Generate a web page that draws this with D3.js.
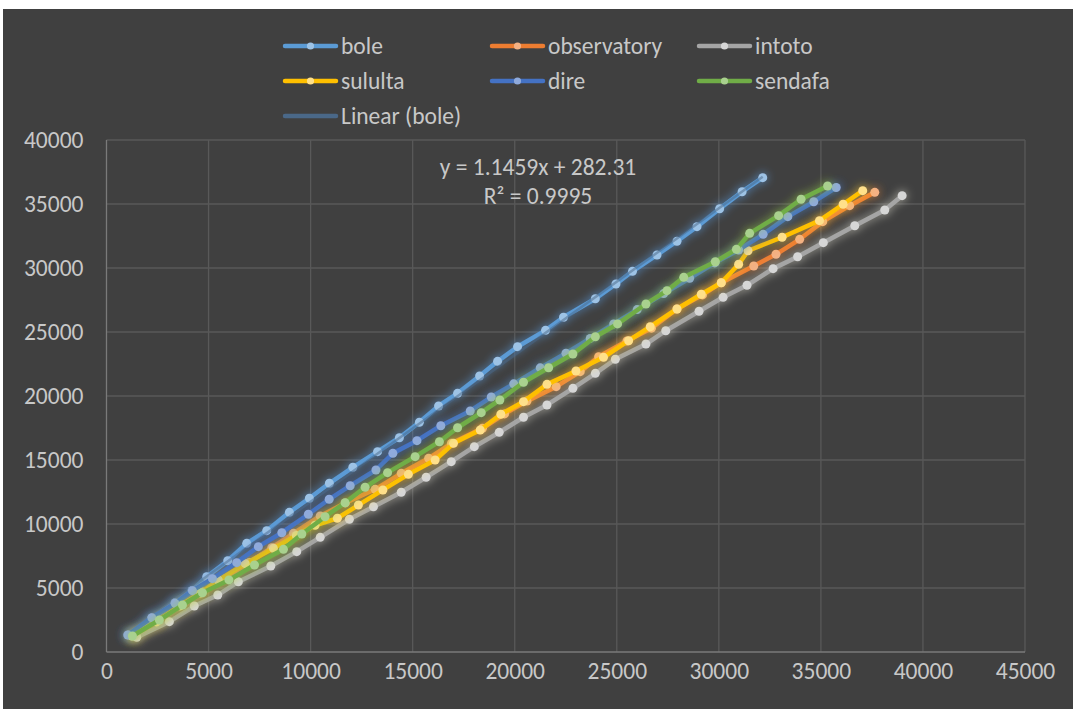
<!DOCTYPE html>
<html><head><meta charset="utf-8">
<script src="https://cdn.jsdelivr.net/npm/d3@7"></script>
<style>
html,body{margin:0;padding:0;background:#fff;}
svg{display:block;}
text{font-family:Calibri,Carlito,Lato,"Open Sans",sans-serif;}
</style></head>
<body>
<svg id="c" width="1073" height="709"></svg>
<script>
// ---- data ----
const seriesNames = ["bole","observatory","intoto","sululta","dire","sendafa"];
const trendName = "Linear (bole)";
const xTicks = [0,5000,10000,15000,20000,25000,30000,35000,40000,45000];
const yTicks = [0,5000,10000,15000,20000,25000,30000,35000,40000];
const trendSlope = 1.1459, trendIntercept = 282.31;
const eqText = "y = 1.1459x + 282.31";
const r2Text = "R² = 0.9995";

const bole = [[1100,1330],[2220,2630],[3360,3850],[4180,4790],[4910,5880],[5940,7130],[6870,8490],[7850,9480],[8960,10910],[9940,12010],[10920,13180],[12070,14430],[13280,15650],[14350,16740],[15330,17950],[16270,19220],[17200,20210],[18280,21560],[19160,22710],[20140,23850],[21510,25130],[22390,26150],[23950,27600],[24960,28750],[25770,29740],[26970,31020],[27950,32090],[28930,33230],[30040,34630],[31140,35960],[32150,37060]];
const observatory = [[1300,1300],[2500,2400],[3700,3700],[4700,4700],[5800,5700],[7000,7000],[8100,8150],[9160,9270],[10470,10630],[11700,11650],[13160,12710],[14440,13960],[15780,15130],[16900,16300],[18420,17480],[19500,18600],[20600,19600],[22030,20730],[23210,21900],[24110,23070],[25500,24300],[26700,25300],[27950,26800],[29200,27900],[30120,28850],[31710,30160],[32800,31070],[33960,32240],[35090,33620],[36410,34870],[37640,35910]];
const intoto = [[1480,1150],[3080,2370],[4300,3590],[5450,4450],[6460,5490],[8050,6720],[9320,7840],[10470,8960],[11900,10370],[13080,11350],[14440,12480],[15660,13650],[16890,14870],[18020,16040],[19240,17160],[20430,18340],[21580,19300],[22850,20600],[23950,21770],[24930,22870],[26430,24060],[27400,25100],[29030,26620],[30210,27710],[31380,28650],[32660,29950],[33860,30880],[35120,31980],[36660,33300],[38130,34530],[38980,35650]];
const sululta = [[1250,1250],[2450,2350],[3600,3600],[4600,4600],[5480,5620],[6800,6900],[8180,8100],[9300,9100],[10220,9900],[11310,10450],[12340,11480],[13540,12660],[14790,13880],[16100,15000],[17000,16300],[18310,17340],[19320,18570],[20430,19560],[21580,20910],[23000,21950],[24350,23020],[25580,24320],[26640,25410],[27950,26800],[29140,27950],[30120,28850],[30970,30290],[31430,31350],[33100,32400],[34930,33700],[36090,34980],[37050,36040]];
const dire = [[1040,1330],[2220,2680],[3360,3800],[4210,4790],[5190,5730],[6380,6980],[7440,8230],[8590,9320],[9890,10760],[10910,11930],[11940,12990],[13200,14220],[14030,15520],[15210,16510],[16380,17680],[17820,18830],[18850,19920],[19950,20950],[21250,22200],[22510,23340],[23700,24500],[24850,25630],[26000,26750],[27300,28000],[28570,29200],[29800,30400],[30970,31410],[32170,32630],[33380,34010],[34650,35180],[35750,36290]];
const sendafa = [[1270,1250],[2590,2500],[3720,3670],[4700,4630],[6000,5630],[7250,6800],[8670,8020],[9570,9220],[10710,10570],[11690,11660],[12670,12870],[13770,14010],[15120,15260],[16310,16430],[17200,17520],[18360,18700],[19270,19690],[20430,21070],[21660,22210],[22850,23280],[23950,24630],[25040,25630],[26430,27190],[27460,28230],[28280,29270],[29830,30490],[30860,31460],[31510,32710],[32930,34090],[34030,35370],[35330,36410]];

const seriesData = [bole, observatory, intoto, sululta, dire, sendafa];
const lineColors = ["#5B9BD5","#ED7D31","#A5A5A5","#FFC000","#4472C4","#70AD47"];
const markerColors = ["#9DC3E6","#F4B183","#D6D6D6","#FFE08A","#8FAADC","#A9D18E"];
const glowColors = ["#5BA0E8","#F08A3C","#D8D6C8","#FFD030","#4A80D8","#9CD040"];
const trendColor = "#4A6888";
const textColor = "#c8c8c8";
const fontSize = "23.5px";

// ---- chart ----
const svg = d3.select("#c");
svg.append("rect").attr("x",3).attr("y",9).attr("width",1070).attr("height",700).attr("fill","#404040");

const x = d3.scaleLinear().domain([0,45000]).range([106.5,1025]);
const y = d3.scaleLinear().domain([0,40000]).range([652,140]);

const defs = svg.append("defs");
seriesData.forEach((d,i)=>{
  const f = defs.append("filter").attr("id","glow"+i)
    .attr("filterUnits","userSpaceOnUse").attr("x",0).attr("y",0).attr("width",1073).attr("height",709);
  f.append("feGaussianBlur").attr("in","SourceAlpha").attr("stdDeviation",5).attr("result","b");
  const ct = f.append("feComponentTransfer").attr("in","b").attr("result","b2");
  ct.append("feFuncA").attr("type","linear").attr("slope",1.3);
  f.append("feFlood").attr("flood-color",glowColors[i]).attr("flood-opacity",0.6).attr("result","fl");
  f.append("feComposite").attr("in","fl").attr("in2","b2").attr("operator","in").attr("result","g");
  const m = f.append("feMerge");
  m.append("feMergeNode").attr("in","g");
  m.append("feMergeNode").attr("in","SourceGraphic");
});

// gridlines
const grid = svg.append("g");
grid.selectAll(".gx").data(xTicks.slice(1)).join("line")
  .attr("x1",d=>x(d)).attr("x2",d=>x(d)).attr("y1",y(40000)).attr("y2",y(0))
  .attr("stroke","#595959").attr("stroke-width",1.3);
grid.selectAll(".gy").data(yTicks.slice(1)).join("line")
  .attr("x1",x(0)).attr("x2",x(45000)).attr("y1",d=>y(d)).attr("y2",d=>y(d))
  .attr("stroke","#595959").attr("stroke-width",1.3);
svg.append("line").attr("x1",x(0)).attr("x2",x(0)).attr("y1",y(40000)).attr("y2",y(0)).attr("stroke","#7a7a7a").attr("stroke-width",1.3);
svg.append("line").attr("x1",x(0)).attr("x2",x(45000)).attr("y1",y(0)).attr("y2",y(0)).attr("stroke","#7a7a7a").attr("stroke-width",1.3);

const xAxis = svg.append("g").attr("transform",`translate(0,${y(0)})`)
  .call(d3.axisBottom(x).tickValues(xTicks).tickFormat(d3.format("d")).tickSize(0).tickPadding(10));
const yAxis = svg.append("g").attr("transform",`translate(${x(0)},0)`)
  .call(d3.axisLeft(y).tickValues(yTicks).tickFormat(d3.format("d")).tickSize(0).tickPadding(23));
[xAxis,yAxis].forEach(a=>{
  a.select(".domain").remove();
  a.selectAll("text").attr("fill",textColor).style("font-size",fontSize)
   .style("font-family",'Calibri,Carlito,Lato,"Open Sans",sans-serif');
});

const line = d3.line().x(d=>x(d[0])).y(d=>y(d[1]));
const plot = svg.append("g");
seriesData.forEach((d,i)=>{
  const g = plot.append("g").attr("filter",`url(#glow${i})`);
  g.append("path").datum(d).attr("d",line).attr("fill","none")
    .attr("stroke",lineColors[i]).attr("stroke-width",4.5).attr("stroke-linejoin","round").attr("stroke-linecap","round");
  g.selectAll("circle").data(d).join("circle")
    .attr("cx",p=>x(p[0])).attr("cy",p=>y(p[1])).attr("r",4.5)
    .attr("fill",markerColors[i]);
  if(i===0){
    const xe = d3.extent(d,p=>p[0]);
    plot.append("line").attr("x1",x(xe[0])).attr("y1",y(trendSlope*xe[0]+trendIntercept))
      .attr("x2",x(xe[1])).attr("y2",y(trendSlope*xe[1]+trendIntercept))
      .attr("stroke",trendColor).attr("stroke-width",2.5).attr("opacity",0.5);
  }
});

// equation
svg.append("text").attr("x",538).attr("y",175).attr("text-anchor","middle")
  .attr("fill",textColor).style("font-size",fontSize).text(eqText);
svg.append("text").attr("x",538).attr("y",204).attr("text-anchor","middle")
  .attr("fill",textColor).style("font-size",fontSize).text(r2Text);

// legend
const legendItems = seriesNames.map((n,i)=>({name:n,color:lineColors[i],mk:markerColors[i]}));
legendItems.push({name:trendName,color:trendColor,mk:null});
const colX = [283,490,697], rowY = [46,81,116];
const lg = svg.append("g");
legendItems.forEach((it,i)=>{
  const cx = colX[i%3], cy = rowY[Math.floor(i/3)];
  lg.append("line").attr("x1",cx+2).attr("x2",cx+53).attr("y1",cy).attr("y2",cy)
    .attr("stroke",it.color).attr("stroke-width",4.5).attr("stroke-linecap","round");
  if(it.mk) lg.append("circle").attr("cx",cx+27.5).attr("cy",cy).attr("r",3.6).attr("fill",it.mk);
  lg.append("text").attr("x",cx+58).attr("y",cy+8).attr("fill",textColor)
    .style("font-size",fontSize).text(it.name);
});
</script>
</body></html>
